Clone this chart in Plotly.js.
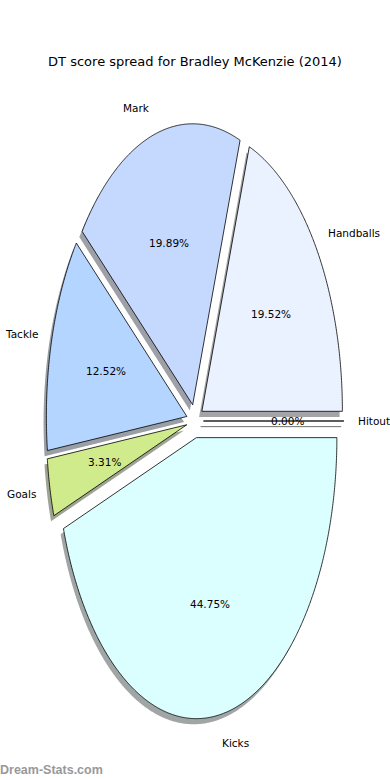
<!DOCTYPE html>
<html><head><meta charset="utf-8">
<script src="https://cdn.plot.ly/plotly-3.0.1.min.js"></script>
<style>html,body{margin:0;padding:0;background:#fff}#chart{width:390px;height:780px}</style>
</head><body><div id="chart"></div>
<script>
const labels = ["Handballs", "Mark", "Tackle", "Goals", "Kicks", "Hitout"];
const values = [19.52, 19.89, 12.52, 3.31, 44.75, 0.00];
const colors = ["#ebf2ff", "#c5d9ff", "#b3d5ff", "#d0eb8c", "#dbffff", "#e0e0e0"];
const titleText = "DT score spread for Bradley McKenzie (2014)";
const watermark = "Dream-Stats.com";

const explode = 0.06, labelDist = 1.1, pctDist = 0.6, shOff = -0.02;
const total = values.reduce((a,b)=>a+b,0);
const traces = [], shadows = [], annotations = [];
const font = {family: "DejaVu Sans", size: 10.5, color: "#000"};
let cum = 0;
function shadowColor(hex){
  const r=parseInt(hex.slice(1,3),16), g=parseInt(hex.slice(3,5),16), b=parseInt(hex.slice(5,7),16);
  return `rgba(${Math.round(r*0.3)},${Math.round(g*0.3)},${Math.round(b*0.3)},0.5)`;
}
values.forEach((v,i)=>{
  const t1 = 2*Math.PI*cum/total; cum += v; const t2 = 2*Math.PI*cum/total;
  const tm = (t1+t2)/2;
  const cx = explode*Math.cos(tm), cy = explode*Math.sin(tm);
  const xs=[cx], ys=[cy];
  const n = Math.max(2, Math.ceil((t2-t1)/(Math.PI/180))*3);
  for(let k=0;k<=n;k++){ const t=t1+(t2-t1)*k/n; xs.push(cx+Math.cos(t)); ys.push(cy+Math.sin(t)); }
  xs.push(cx); ys.push(cy);
  shadows.push({x: xs.map(x=>x+shOff), y: ys.map(y=>y+shOff), type:"scatter", mode:"lines", fill:"toself",
    fillcolor: shadowColor(colors[i]), line:{color: v===0 ? "rgba(60,60,60,0.45)" : "rgba(0,0,0,0)", width:1, simplify:false}, hoverinfo:"skip", showlegend:false});
  traces.push({x: xs, y: ys, type:"scatter", mode:"lines", fill:"toself", fillcolor: colors[i],
    line:{color:"#000", width:0.8, simplify:false}, hoverinfo:"skip", showlegend:false});
  const lx = cx + labelDist*Math.cos(tm), ly = cy + labelDist*Math.sin(tm);
  const right = Math.cos(tm) >= 0;
  annotations.push({x: lx, y: ly, xref:"x", yref:"y", text: labels[i], showarrow:false,
    xanchor: right ? "left" : "right", xshift: right ? -2 : 2, yanchor:"middle", font});
  annotations.push({x: cx + pctDist*Math.cos(tm), y: cy + pctDist*Math.sin(tm), xref:"x", yref:"y",
    text: v.toFixed(2)+"%", showarrow:false, xanchor:"center", yanchor:"middle", font});
});
annotations.push({x:0, y:0, xref:"paper", yref:"paper", xanchor:"left", yanchor:"middle", xshift:-2, yshift:10,
  text: watermark, showarrow:false, font:{family:"Liberation Sans", size:12.5, color:"#999999", weight:"bold"}});

const layout = {
  width:390, height:780, margin:{l:0,r:0,t:0,b:0}, paper_bgcolor:"#fff", plot_bgcolor:"#fff",
  title:{text:titleText, x:0.5, xanchor:"center", y:1-61/780, yanchor:"middle", yref:"container",
    font:{family:"DejaVu Sans", size:13, color:"#000"}},
  xaxis:{range:[-195/140.5, 195/140.5], visible:false, fixedrange:true},
  yaxis:{range:[(421-780)/281, 421/281], visible:false, fixedrange:true},
  annotations, showlegend:false
};
Plotly.newPlot("chart", shadows.concat(traces), layout, {staticPlot:true, displayModeBar:false});
</script></body></html>
